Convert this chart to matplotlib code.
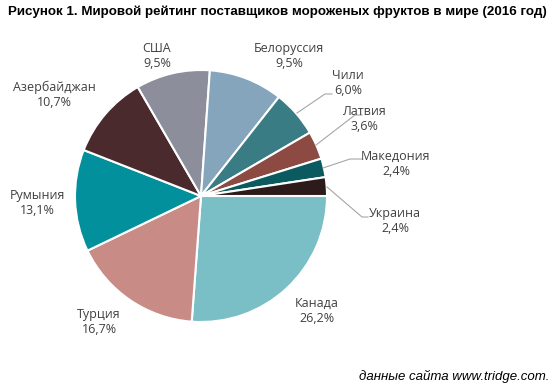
import matplotlib
matplotlib.use("Agg")
import matplotlib.pyplot as plt

# data
countries = ["Канада", "Турция", "Румыния", "Азербайджан", "США",
             "Белоруссия", "Чили", "Латвия", "Македония", "Украина"]
shares = [26.2, 16.7, 13.1, 10.7, 9.5, 9.5, 6.0, 3.6, 2.4, 2.4]
colors = ["#7abec6", "#c88b85", "#01909c", "#4a2a2d", "#8d8e9c",
          "#84a5bb", "#3a7c83", "#8c4a42", "#0b5a60", "#2d1a1b"]

# label positions in pixel coords (centre of the two lines)
label_pos = [(317, 311), (99, 322), (37, 203), (54, 95), (157, 56),
             (289, 56), (348, 83), (364, 119), (396, 164), (395, 221)]
# leader lines for the small slices
leaders = {
    "Чили": [(297, 113), (325, 94), (332, 94)],
    "Латвия": [(316, 145), (355, 115), (362, 115)],
    "Македония": [(323, 168), (350, 159), (362, 159)],
    "Украина": [(327, 187), (362, 217), (368, 217)],
}

W, H = 558, 391
fig = plt.figure(figsize=(W / 100, H / 100), dpi=100)
ax = fig.add_axes([0, 0, 1, 1])

# y axis is inverted below, so counterclock=True shows clockwise on screen
ax.pie(shares, colors=colors, startangle=0, counterclock=True,
       center=(201, 196), radius=126, frame=True,
       wedgeprops=dict(edgecolor="white", linewidth=1.5))
ax.set_xlim(0, W)
ax.set_ylim(H, 0)
ax.set_aspect("equal")
ax.axis("off")

for name, val, (x, y) in zip(countries, shares, label_pos):
    ax.text(x, y, name + "\n" + f"{val:.1f}".replace(".", ",") + "%",
            ha="center", va="center", fontsize=9, family="Open Sans",
            color="#404040", linespacing=1.25)

for name, pts in leaders.items():
    xs = [p[0] for p in pts]
    ys = [p[1] for p in pts]
    ax.plot(xs, ys, color="#a6a6a6", lw=0.8)

ax.text(8, 12, "Рисунок 1. Мировой рейтинг поставщиков мороженых фруктов в мире (2016 год)",
        ha="left", va="center", fontsize=9.6, fontweight="bold",
        family="Liberation Sans", color="black")
ax.text(549, 376, "данные сайта www.tridge.com.", ha="right", va="center",
        fontsize=9.5, style="italic", family="Liberation Sans", color="black")

fig.savefig("out.png", dpi=100)
